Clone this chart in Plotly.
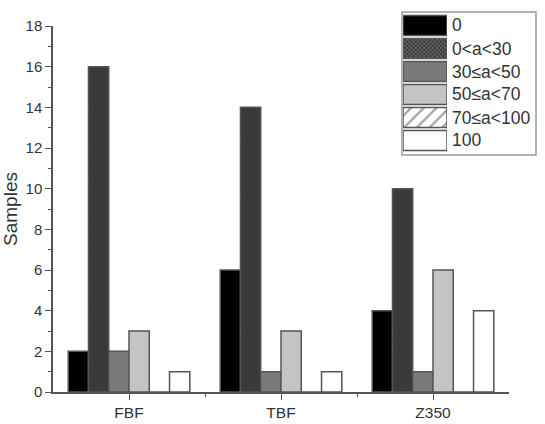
import plotly.graph_objects as go

categories = ["FBF", "TBF", "Z350"]
series_names = ["0", "0<a<30", "30≤a<50", "50≤a<70", "70≤a<100", "100"]
values = [
    [2, 6, 4],
    [16, 14, 10],
    [2, 1, 1],
    [3, 3, 6],
    [0, 0, 0],
    [1, 1, 4],
]
fill_colors = ["#000000", "#3c3c3c", "#7a7a7a", "#c4c4c4", "#ffffff", "#ffffff"]
patterns = ["", "x", "", "", "/", ""]
pattern_fg = ["#000000", "#262626", "#000000", "#000000", "#b5b5b5", "#000000"]
y_ticks = list(range(0, 19, 2))

xpos = list(range(len(categories)))
EDGE = "#555555"

W, H = 545, 424
ML, MR, MT, MB = 53, 8, 8, 32
PW, PH = W - ML - MR, H - MT - MB


def px(x):
    return (x - ML) / PW


def py(y):
    return (H - MB - y) / PH


fig = go.Figure()
for name, vals, col, pat, fg in zip(series_names, values, fill_colors, patterns, pattern_fg):
    marker = dict(color=col, line=dict(color=EDGE, width=1.5))
    if pat:
        marker["pattern"] = dict(shape=pat, fgcolor=fg, size=3 if pat == "x" else 8, solidity=0.25)
    fig.add_trace(go.Bar(x=xpos, y=vals, name=name, marker=marker, showlegend=False))

# custom legend: swatches drawn as a horizontal bar trace on an inset axis
n = len(series_names)
fig.add_trace(go.Bar(
    x=[1] * n, y=list(range(n)), orientation="h", xaxis="x2", yaxis="y2",
    width=0.88, showlegend=False, hoverinfo="skip",
    marker=dict(
        color=fill_colors, line=dict(color=EDGE, width=1.5),
        pattern=dict(shape=patterns, fgcolor=pattern_fg, size=[3, 3, 3, 3, 9, 3], solidity=0.25),
    ),
))

lx0, lx1, ly0, ly1 = px(402), px(536), py(155), py(12)
sx0, sx1, sy0, sy1 = px(403), px(447), py(152), py(14)
fig.add_shape(type="rect", xref="paper", yref="paper", x0=lx0, x1=lx1, y0=ly0, y1=ly1,
              line=dict(color="#9a9a9a", width=1.5), fillcolor="white", layer="below")
for i, name in enumerate(series_names):
    yc = sy1 - (i + 0.5) * (sy1 - sy0) / n
    fig.add_annotation(x=px(450), y=yc, xref="paper", yref="paper", text=name, showarrow=False,
                       xanchor="left", yanchor="middle", font=dict(size=17.5, color="#333333"))

fig.update_layout(
    width=W, height=H,
    margin=dict(l=ML, r=MR, t=MT, b=MB),
    paper_bgcolor="white", plot_bgcolor="white",
    barmode="group", bargap=0.2, bargroupgap=0,
    font=dict(family="Liberation Sans, Arial, sans-serif", size=15, color="#333333"),
    showlegend=False,
    xaxis2=dict(domain=[sx0, sx1], anchor="y2", range=[0, 1], visible=False, fixedrange=True),
    yaxis2=dict(domain=[sy0, sy1], anchor="x2", range=[n - 0.5, -0.5], visible=False, fixedrange=True),
)
fig.update_layout(xaxis=dict(
    domain=[0, px(509)],
    range=[-0.5, 2.5], tickmode="array", tickvals=xpos, ticktext=categories, automargin=False,
    tickfont=dict(size=15.5, color="#333333"),
    showline=True, linecolor=EDGE, linewidth=1.5, mirror=False,
    ticks="outside", ticklen=6, tickcolor=EDGE, showgrid=False, zeroline=False,
    minor=dict(tickmode="array", tickvals=[0.5, 1.5], ticks="outside", ticklen=3, tickcolor=EDGE),
))
fig.update_layout(yaxis=dict(
    domain=[0, py(26)],
    range=[0, 18], tickmode="array", tickvals=y_ticks, automargin=False,
    tickfont=dict(size=15, color="#333333"),
    showline=True, linecolor=EDGE, linewidth=1.5,
    ticks="outside", ticklen=6, tickcolor=EDGE, showgrid=False, zeroline=False,
    minor=dict(dtick=1, ticks="outside", ticklen=3, tickcolor=EDGE),
    title=dict(text="Samples", font=dict(size=19, color="#333333"), standoff=4),
))
fig.write_html("out.html")
